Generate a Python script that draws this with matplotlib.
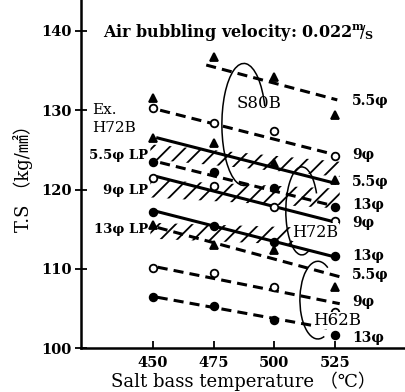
import matplotlib
matplotlib.use("Agg")
import matplotlib.pyplot as plt
from matplotlib.patches import Arc

plt.rcParams['font.family'] = ['DejaVu Serif', 'Noto Sans CJK JP']
plt.rcParams['mathtext.fontset'] = 'dejavuserif'
plt.rcParams['hatch.linewidth'] = 1.3

# salt bath temperatures of the measured points
temps = [450, 475, 500, 525]

# tensile strength (kg/mm2)
s80b_55 = [131.5, 136.7, 134.2, 129.4]
s80b_9 = [130.3, 128.4, 127.4, 124.2]
s80b_13 = [123.5, 122.2, 120.2, 117.8]
h72b_55 = [126.5, 125.9, 123.3, 121.2]
h72b_9 = [121.4, 120.4, 117.8, 116.0]
h72b_13 = [117.2, 115.4, 113.4, 111.6]
h62b_55 = [115.5, 113.0, 112.4, 107.7]
h62b_9 = [110.1, 109.5, 107.7, 104.5]
h62b_13 = [106.4, 105.3, 103.5, 101.6]

# fitted lines: (x start, x end), (y start, y end)
fit_s80b_55 = ([472, 526], [135.7, 131.3])
fit_s80b_9 = ([453, 525], [130.0, 124.4])
fit_s80b_13 = ([453, 525], [123.4, 117.9])
fit_h72b_55 = ([452, 525], [126.5, 120.8])
fit_h72b_9 = ([452, 525], [121.6, 115.9])
fit_h72b_13 = ([452, 525], [117.2, 111.5])
fit_h62b_55 = ([452, 527], [115.2, 109.0])
fit_h62b_9 = ([452, 527], [110.2, 105.6])
fit_h62b_13 = ([452, 524], [106.4, 102.4])

# Ex. H72B lead patented ranges (hatched)
lp_55 = ([449, 527], [125.7, 123.5], [123.8, 121.6])
lp_9 = ([449, 527], [121.2, 120.1], [119.0, 117.6])
lp_13 = ([449, 512], [115.8, 115.2], [113.8, 113.0])

lp_labels = ['5.5\u03c6 LP', '9\u03c6 LP', '13\u03c6 LP']
lp_label_y = [124.3, 119.9, 115.0]
right_labels = ['5.5\u03c6', '9\u03c6', '5.5\u03c6', '13\u03c6', '9\u03c6',
                '13\u03c6', '5.5\u03c6', '9\u03c6', '13\u03c6']
right_label_y = [131.1, 124.3, 120.9, 118.0, 115.8, 111.6, 109.2, 105.8, 101.3]
yticks = [100, 110, 120, 130, 140]

fig = plt.figure(figsize=(4.05, 3.92), dpi=100)
ax = fig.add_axes([0.2, 0.112, 0.8, 0.888])

dash = (0, (3.3, 2.0))
groups = [
    (s80b_55, fit_s80b_55, '^', 'black', dash),
    (s80b_9, fit_s80b_9, 'o', 'white', dash),
    (s80b_13, fit_s80b_13, 'o', 'black', dash),
    (h72b_55, fit_h72b_55, '^', 'black', '-'),
    (h72b_9, fit_h72b_9, 'o', 'white', '-'),
    (h72b_13, fit_h72b_13, 'o', 'black', '-'),
    (h62b_55, fit_h62b_55, '^', 'black', dash),
    (h62b_9, fit_h62b_9, 'o', 'white', dash),
    (h62b_13, fit_h62b_13, 'o', 'black', dash),
]
for vals, fit, mk, fc, ls in groups:
    ax.plot(fit[0], fit[1], color='black', lw=2.2, ls=ls, zorder=2)
    ax.plot(temps, vals, ls='none', marker=mk, ms=5.5, mfc=fc, mec='black',
            mew=1.3, zorder=3)

for xs, up, lo in [lp_55, lp_9, lp_13]:
    ax.fill_between(xs, lo, up, facecolor='none', edgecolor='black',
                    hatch='//', linewidth=0, zorder=1)

# hand drawn loops around each steel grade
for cx, cy, w, h, t1, t2 in [(487.5, 128.2, 18.1, 15.4, 15, 285),
                             (511.4, 117.3, 13.2, 11.1, 20, 300),
                             (518.0, 106.05, 14.8, 9.8, 45, 300)]:
    ax.add_patch(Arc((cx, cy), w, h, theta1=t1, theta2=t2, lw=1.1,
                     color='black', zorder=4))

ax.text(493.6, 130.9, 'S80B', fontsize=12, ha='center', va='center')
ax.text(517, 114.6, 'H72B', fontsize=11.5, ha='center', va='center',
        bbox=dict(facecolor='white', edgecolor='none', pad=0.3), zorder=5)
ax.text(526, 103.5, 'H62B', fontsize=12, ha='center', va='center',
        bbox=dict(facecolor='white', edgecolor='none', pad=0.3), zorder=5)

ax.text(424.9, 130.0, 'Ex.', fontsize=11, ha='left', va='center')
ax.text(424.9, 127.7, 'H72B', fontsize=11, ha='left', va='center')
for lab, y in zip(lp_labels, lp_label_y):
    ax.text(448, y, lab, fontsize=9.5, fontweight='bold', ha='right',
            va='center')
for lab, y in zip(right_labels, right_label_y):
    ax.text(532, y, lab, fontsize=10, fontweight='bold', ha='left',
            va='center')

ax.text(429.4, 139.85,
        'Air bubbling velocity: 0.022$^{\\mathbf{m}}\\!\\!/_{\\mathbf{S}}$',
        fontsize=11.5, fontweight='bold', ha='left', va='center')

ax.set_xlim(420.4, 553.9)
ax.set_ylim(100, 143.9)
ax.set_xticks(temps)
ax.set_yticks(yticks)
ax.tick_params(axis='x', direction='in', length=5, width=1.3,
               labelsize=10.5, pad=6)
ax.tick_params(axis='y', direction='inout', length=9, width=1.3,
               labelsize=10.5, pad=2)
for t in ax.get_xticklabels() + ax.get_yticklabels():
    t.set_fontweight('bold')
ax.spines['top'].set_visible(False)
ax.spines['right'].set_visible(False)
ax.spines['left'].set_linewidth(1.8)
ax.spines['bottom'].set_linewidth(1.8)

ax.set_xlabel('Salt bass temperature （\u2103）', fontsize=13, labelpad=1)
ax.set_ylabel('T.S （kg/\u339f）', fontsize=13, labelpad=6)

fig.savefig('out.png', dpi=100)
